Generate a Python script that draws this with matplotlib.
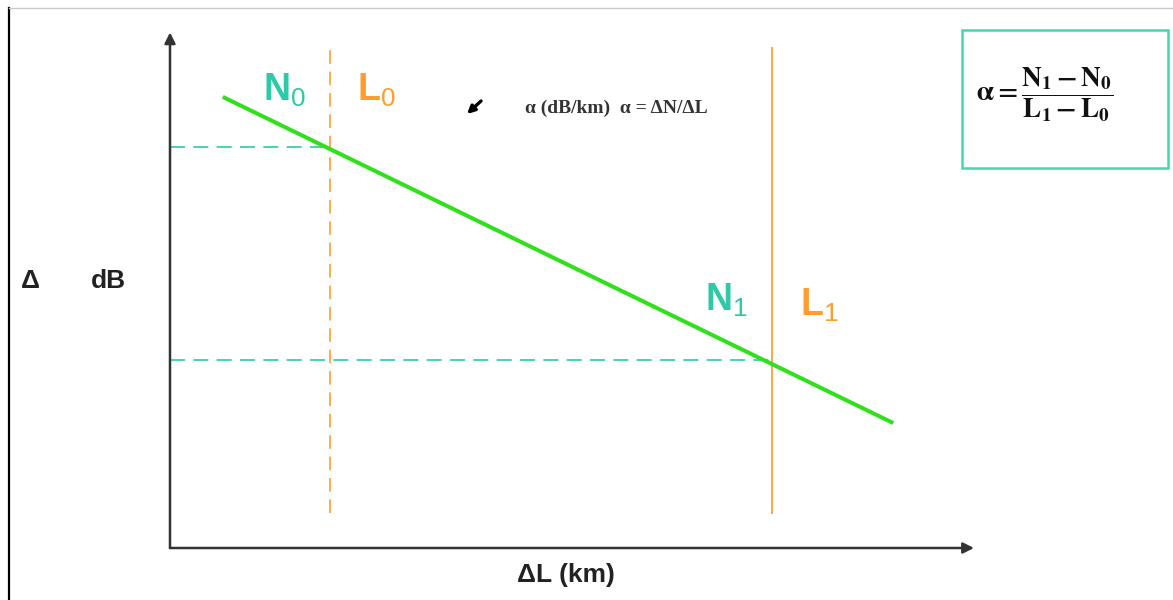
import matplotlib
matplotlib.use('Agg')
import matplotlib.pyplot as plt

# positions on the (arbitrary) distance / attenuation scale
L0 = 20.0          # start of section (km)
L1 = 75.3          # end of section (km)
N0 = 79.0          # level at L0 (dB)
N1 = 37.0          # level at L1 (dB)
trace_x = [6.6, 90.4]    # fibre attenuation trace end points
trace_y = [88.8, 24.6]
marker_bottom = 6.9
marker_top = [99.0, 98.5]

teal = '#2ec9a6'
orange = '#ff9d2e'
green = '#2fe01a'

plt.rcParams['font.family'] = ['Liberation Sans', 'DejaVu Sans']
plt.rcParams['mathtext.fontset'] = 'custom'
plt.rcParams['mathtext.rm'] = 'Liberation Sans'
plt.rcParams['mathtext.bf'] = 'Liberation Sans:bold'

W, H = 1173, 600
fig = plt.figure(figsize=(W / 100, H / 100), dpi=100)

# screenshot frame (pixel coordinates)
frame = fig.add_axes([0, 0, 1, 1])
frame.set_xlim(0, W)
frame.set_ylim(H, 0)
frame.axis('off')
frame.plot([9, 9], [8, H], color='black', lw=1.6)
frame.plot([9, W], [8, 8], color='#c8c8c8', lw=1.0)

# main diagram axes: data (0,0) sits at the arrow origin
ax = fig.add_axes([170 / W, (H - 548) / H, 800 / W, 508 / H])
ax.set_xlim(0, 100)
ax.set_ylim(0, 100)
ax.axis('off')

arrow_kw = dict(arrowstyle='-|>', color='#333333', lw=1.8, mutation_scale=16,
                shrinkA=0, shrinkB=0)
ax.annotate('', xy=(0, 101.5), xytext=(0, 0), arrowprops=arrow_kw,
            annotation_clip=False)
ax.annotate('', xy=(100.5, 0), xytext=(0, 0), arrowprops=arrow_kw,
            annotation_clip=False)

# guide lines
ax.plot([0, L0], [N0, N0], color=teal, lw=1.2, dashes=(9, 5), clip_on=False)
ax.plot([0, L1], [N1, N1], color=teal, lw=1.2, dashes=(9, 5), clip_on=False)
ax.plot([L0, L0], [marker_bottom, marker_top[0]], color=orange, lw=1.4,
        dashes=(7, 4), alpha=0.85, clip_on=False)
ax.plot([L1, L1], [marker_bottom, marker_top[1]], color=orange, lw=1.4,
        alpha=0.9, clip_on=False)

# attenuation trace
ax.plot(trace_x, trace_y, color=green, lw=2.9, solid_capstyle='butt',
        clip_on=False)

# labels in pixel coordinates
lab = dict(fontsize=27, fontweight='bold', va='center', ha='left')
frame.text(263, 90, r'$\mathbf{N}_{0}$', color=teal, **lab)
frame.text(357, 90, r'$\mathbf{L}_{0}$', color=orange, **lab)
frame.text(705, 300, r'$\mathbf{N}_{1}$', color=teal, **lab)
frame.text(800, 305, r'$\mathbf{L}_{1}$', color=orange, **lab)

frame.text(21, 281, 'Δ', fontsize=19, fontweight='bold', va='center', ha='left',
           color='#222222')
frame.text(91, 281, 'dB', fontsize=19, fontweight='bold', va='center', ha='left',
           color='#222222')
frame.text(517, 575, 'ΔL (km)', fontsize=19, fontweight='bold', va='center',
           ha='left', color='#222222')

frame.annotate('', xy=(467, 114), xytext=(481, 101),
               arrowprops=dict(arrowstyle='-|>', color='black', lw=2.4,
                               mutation_scale=11, shrinkA=0, shrinkB=0))
frame.text(525, 108, 'α (dB/km)  α = ΔN/ΔL', fontsize=14, fontweight='bold',
           family=['Liberation Serif', 'DejaVu Serif'], va='center', ha='left',
           color='#333333')

# formula box
box = plt.Rectangle((962, 30), 206, 138, fill=False, edgecolor='#44d6ad', lw=1.8)
frame.add_patch(box)
plt.rcParams['mathtext.fontset'] = 'stix'
frame.text(976, 95, r'$\mathbf{\alpha = \dfrac{N_1 - N_0}{L_1 - L_0}}$',
           fontsize=19.5, va='center', ha='left', color='#111111')

fig.savefig('out.png', dpi=100)
